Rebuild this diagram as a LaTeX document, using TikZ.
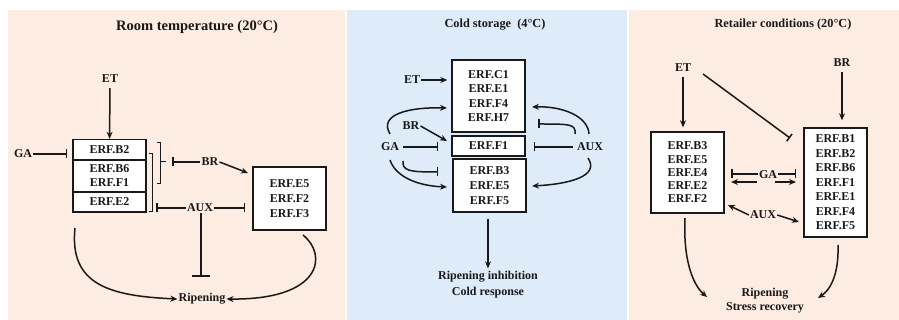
\documentclass[tikz,border=0pt]{standalone}
\usepackage{fontspec}
\setmainfont{Liberation Serif}
\usetikzlibrary{arrows.meta}
\definecolor{peach}{RGB}{253,236,225}
\definecolor{cold}{RGB}{222,235,248}
\definecolor{ink}{RGB}{25,25,25}
\begin{document}
\begin{tikzpicture}[x=1pt,y=-1pt,
  lbl/.style={font=\bfseries\fontsize{12}{14}\selectfont, inner sep=1pt, text=ink},
  ttl/.style={font=\bfseries\fontsize{12.3}{14}\selectfont, inner sep=1pt, text=ink},
  erf/.style={draw=ink, line width=1.4pt, fill=white, inner sep=0pt, align=center, text=ink,
              font=\bfseries\fontsize{12}{14.5}\selectfont},
  act/.style={draw=ink, line width=1.5pt, -{Stealth[length=7pt,width=6pt]}},
  inh/.style={draw=ink, line width=1.5pt, -{Bar[width=9pt,line width=1.5pt]}},
  brk/.style={draw=ink, line width=0.8pt},
]
\useasboundingbox (0,0) rectangle (899,320);
\fill[white] (0,0) rectangle (899,320);
\fill[peach] (8,10) rectangle (345,320);
\fill[cold] (347,10) rectangle (627,320);
\fill[peach] (629,10) rectangle (899,320);

% ---------------- Panel 1: Room temperature ----------------
\node[ttl, font=\bfseries\fontsize{14.5}{16}\selectfont] (t1) at (197,27) {Room temperature (20°C)};
\node[lbl] (et1) at (110,79) {ET};
\node[lbl] (ga1) at (23,154) {GA};
\node[lbl] (br1) at (210,162) {BR};
\node[lbl] (aux1) at (200,208) {AUX};
\node[lbl] (rip1) at (202,299) {Ripening};

\node[erf, minimum width=73pt, minimum height=20.5pt] (b2) at (109.5,149.75) {ERF.B2};
\node[erf, minimum width=73pt, minimum height=32pt, font=\bfseries\fontsize{12}{14}\selectfont] (b6) at (109.5,176) {ERF.B6\\ERF.F1};
\node[erf, minimum width=73pt, minimum height=20pt] (e2) at (109.5,202) {ERF.E2};
\node[erf, minimum width=73pt, minimum height=63pt, font=\bfseries\fontsize{12}{15}\selectfont] (r1) at (289.5,198.5) {ERF.E5\\ERF.F2\\ERF.F3};

% brackets
\draw[brk] (157,142) -- (160,142) -- (160,183) -- (157,183);
\draw[brk] (149,153) -- (152,153) -- (152,211) -- (149,211);
\coordinate (brk1) at (160,162);
\coordinate (brk1t) at (172,162);
\draw[draw=ink, line width=1pt] (brk1) -- (166,162);
\coordinate (brk2t) at (156,208);

\draw[act, shorten <=4pt] (et1) -- (b2);
\draw[inh, shorten >=5pt] (ga1.east) -- (ga1.east -| b2.west);
\draw[inh] (br1.west) -- (brk1t);
\coordinate (r1in) at (248,173);
\draw[act] (br1.east) -- (r1in);
\draw[inh] (aux1.west) -- (brk2t);
\draw[inh, shorten >=7pt] (aux1.east) -- (aux1.east -| r1.west);
\coordinate (ripbar) at (201,277);
\draw[draw=ink, line width=1.5pt, -{Bar[width=18pt,line width=1.5pt]}] (aux1.south -| ripbar) -- (ripbar);
\coordinate (c1) at (75,228);
\draw[act] (c1) .. controls (69,285) and (110,296) .. (rip1.west);
\coordinate (c2) at (303,235);
\draw[act] (c2) .. controls (328,255) and (322,300) .. (rip1.east);

% ---------------- Panel 2: Cold storage ----------------
\node[ttl] (t2) at (495,25) {Cold storage~ (4°C)};
\node[erf, minimum width=73pt, minimum height=72pt, font=\bfseries\fontsize{12}{14.3}\selectfont] (c1b) at (488.5,96) {ERF.C1\\ERF.E1\\ERF.F4\\ERF.H7};
\node[erf, minimum width=73pt, minimum height=20pt] (f1) at (488.5,146) {ERF.F1};
\node[erf, minimum width=73pt, minimum height=53pt, font=\bfseries\fontsize{12}{15}\selectfont] (b3) at (489.5,185.5) {ERF.B3\\ERF.E5\\ERF.F5};
\node[lbl] (et2) at (412,80) {ET};
\node[lbl] (br2) at (411,126) {BR};
\node[lbl] (ga2) at (390,147) {GA};
\node[lbl] (aux2) at (590,147) {AUX};
\node[lbl, align=center, font=\bfseries\fontsize{12}{16}\selectfont] (rip2) at (488,285) {Ripening inhibition\\Cold response};

\draw[act, shorten >=4pt] (et2.east) -- (et2.east -| c1b.west);
\coordinate (f1in) at (447,141);
\draw[act] (br2.east) -- (f1in);
\draw[inh, shorten >=13pt, shorten <=3pt] (ga2.east) -- (ga2.east -| f1.west);
\coordinate (g2a) at (390,134);
\coordinate (g2at) at (447,108);
\draw[act] (g2a) .. controls (378,114) and (410,107) .. (g2at);
\coordinate (g2b) at (403,161);
\coordinate (g2bt) at (438,172);
\draw[inh] (g2b) .. controls (402,171) and (410,172) .. (g2bt);
\coordinate (g2c) at (390,160);
\coordinate (g2ct) at (447,187);
\draw[act] (g2c) .. controls (396,178) and (420,186) .. (g2ct);

\draw[inh, shorten >=8pt, shorten <=3pt] (aux2.west) -- (aux2.west -| f1.east);
\coordinate (a2a) at (589,134);
\coordinate (a2at) at (532,107);
\draw[act] (a2a) .. controls (588,116) and (562,106) .. (a2at);
\coordinate (a2b) at (575,134);
\coordinate (a2bt) at (538,124);
\draw[inh] (a2b) .. controls (576,124) and (570,124) .. (a2bt);
\coordinate (a2c) at (588,158);
\coordinate (a2ct) at (532,186);
\draw[act] (a2c) .. controls (600,176) and (570,184) .. (a2ct);

\draw[act, shorten <=6pt, shorten >=2pt] (b3.south -| rip2) -- (rip2.north);

% ---------------- Panel 3: Retailer conditions ----------------
\node[ttl] (t3) at (783,25) {Retailer conditions (20°C)};
\node[lbl] (et3) at (683,68) {ET};
\node[lbl] (br3) at (842,63) {BR};
\node[lbl] (ga3) at (768,175) {GA};
\node[lbl] (aux3) at (763,215) {AUX};
\node[lbl, align=center, font=\bfseries\fontsize{12}{14}\selectfont] (rip3) at (765,301) {Ripening\\Stress recovery};
\node[erf, minimum width=73pt, minimum height=81pt, font=\bfseries\fontsize{12}{13.3}\selectfont] (lb3) at (687.5,172.5) {ERF.B3\\ERF.E5\\ERF.E4\\ERF.E2\\ERF.F2};
\node[erf, minimum width=63pt, minimum height=109pt, font=\bfseries\fontsize{12}{14.5}\selectfont] (rb3) at (835.5,182.5) {ERF.B1\\ERF.B2\\ERF.B6\\ERF.F1\\ERF.E1\\ERF.F4\\ERF.F5};

\draw[act, shorten <=4pt, shorten >=4pt] (et3) -- (et3 |- lb3.north);
\coordinate (et3i) at (703,74);
\coordinate (et3b) at (790,138);
\draw[inh] (et3i) -- (et3b);
\draw[act, shorten <=4pt, shorten >=7pt] (br3) -- (br3 |- rb3.north);
\coordinate (ga3l) at (731,174);
\coordinate (ga3r) at (796,174);
\draw[inh] (ga3.west |- ga3l) -- (ga3l);
\draw[inh] (ga3.east |- ga3r) -- (ga3r);
\coordinate (ga3la) at (757,182);
\coordinate (ga3ra) at (775,182);
\draw[act] (ga3la) -- (ga3la -| ga3l);
\draw[act] (ga3ra) -- (ga3ra -| ga3r);
\coordinate (aux3l) at (728,205);
\coordinate (aux3r) at (799,222);
\draw[act] (aux3.west) -- (aux3l);
\draw[act] (aux3.east) -- (aux3r);
\coordinate (c3a) at (685,218);
\coordinate (c3at) at (707,297);
\draw[act] (c3a) .. controls (683,260) and (693,285) .. (c3at);
\coordinate (c3b) at (838,245);
\coordinate (c3bt) at (818,298);
\draw[act] (c3b) .. controls (839,275) and (830,290) .. (c3bt);
\end{tikzpicture}
\end{document}
